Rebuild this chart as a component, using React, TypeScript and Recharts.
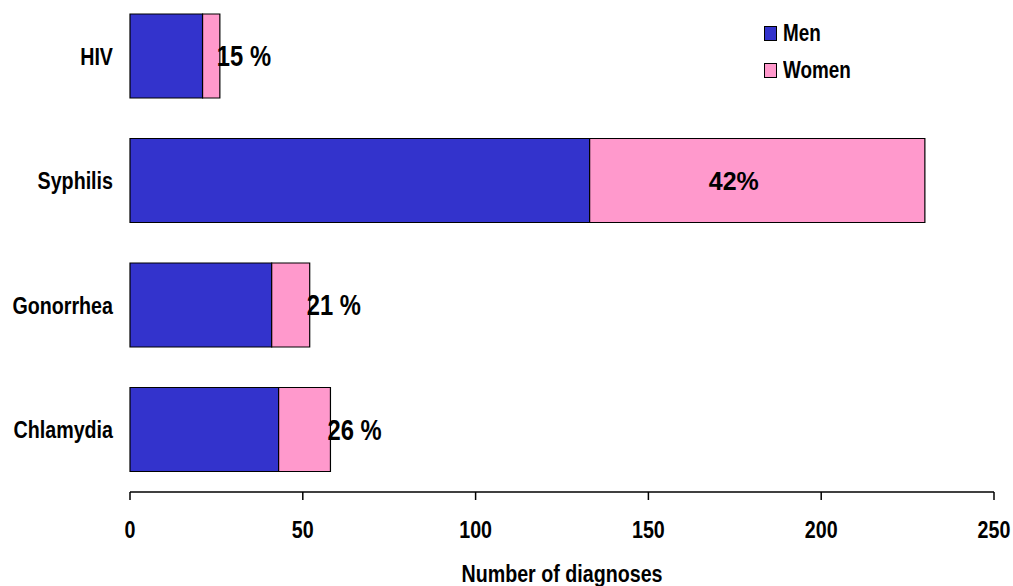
import React from 'react';
import { BarChart, Bar, XAxis, YAxis, LabelList } from 'recharts';

// Diagnoses by infection, split by sex
const infections = ['HIV', 'Syphilis', 'Gonorrhea', 'Chlamydia'];
const men = [21, 133, 41, 43];
const women = [5, 97, 11, 15];
const womenShare = ['15 %', '42%', '21 %', '26 %'];
const xTicks = [0, 50, 100, 150, 200, 250];

const chartData = infections.map((name, i) => ({
  name,
  men: men[i],
  women: women[i],
  share: womenShare[i],
}));

const FONT = '"Liberation Sans", Arial, sans-serif';
const SQUEEZE = 0.82; // no narrow font installed, so squeeze horizontally

// text drawn with a horizontal squeeze around its anchor point
const NarrowText = ({ x, y, anchor, size, children }: any) => (
  <g transform={`translate(${x},${y}) scale(${SQUEEZE},1)`}>
    <text x={0} y={0} textAnchor={anchor} fontFamily={FONT} fontWeight="bold" fontSize={size} fill="#000">
      {children}
    </text>
  </g>
);

const CategoryTick = (props: any) => {
  const { x, y, payload } = props;
  return <NarrowText x={x} y={y + 8.5} anchor="end" size={24}>{payload.value}</NarrowText>;
};

const NumberTick = (props: any) => {
  const { x, y, payload } = props;
  return <NarrowText x={x} y={y + 17} anchor="middle" size={24}>{payload.value}</NarrowText>;
};

const AxisTitle = (props: any) => {
  const { x, y, width, height } = props.viewBox;
  return <NarrowText x={x + width / 2} y={y + height + 60} anchor="middle" size={24}>Number of diagnoses</NarrowText>;
};

// Percentage of women, drawn next to (or inside) the pink segment
const ShareLabel = (props: any) => {
  const { x, y, width, height, value } = props;
  const cy = y + height / 2;
  if (width > 100) {
    return (
      <text x={x + width * 0.43} y={cy + 9} textAnchor="middle" fontFamily={FONT} fontWeight="bold" fontSize={25} fill="#000">
        {value}
      </text>
    );
  }
  return <NarrowText x={x + width - 3} y={cy + 10} anchor="start" size={29}>{value}</NarrowText>;
};

const legendText: React.CSSProperties = {
  display: 'inline-block',
  transform: `scaleX(${SQUEEZE})`,
  transformOrigin: 'left center',
};

export default function App() {
  return (
    <div style={{ position: 'fixed', top: 0, left: 0, width: 1013, height: 586, overflow: 'hidden', background: '#fff' }}>
      <div style={{ position: 'absolute', top: -20, left: 0 }}>
        <BarChart
          width={1013}
          height={606}
          data={chartData}
          layout="vertical"
          barSize={84}
          margin={{ top: 14, right: 19, left: 0, bottom: 64 }}
        >
          <XAxis
            type="number"
            domain={[0, 250]}
            ticks={xTicks}
            height={30}
            axisLine={{ stroke: '#000', strokeWidth: 1.5 }}
            tickLine={{ stroke: '#000', strokeWidth: 1.5 }}
            tickSize={8}
            tickMargin={21}
            tick={NumberTick}
            label={<AxisTitleLabel />}
          />
          <YAxis
            type="category"
            dataKey="name"
            width={130}
            axisLine={false}
            tickLine={false}
            tickSize={0}
            tickMargin={17}
            tick={CategoryTick}
          />
          <Bar dataKey="men" stackId="a" fill="#3333CC" stroke="#000" strokeWidth={1.2} isAnimationActive={false} />
          <Bar dataKey="women" stackId="a" fill="#FF99CC" stroke="#000" strokeWidth={1.2} isAnimationActive={false}>
            <LabelList dataKey="share" content={ShareLabel} />
          </Bar>
        </BarChart>
      </div>

      {/* Legend */}
      <div style={{ position: 'absolute', left: 764, top: 22, fontFamily: FONT, fontWeight: 'bold', fontSize: 23, color: '#000' }}>
        <div style={{ display: 'flex', alignItems: 'center', height: 22, marginBottom: 15 }}>
          <div style={{ width: 11, height: 13, background: '#3333CC', border: '1px solid #000', marginRight: 6 }}></div>
          <span style={legendText}>Men</span>
        </div>
        <div style={{ display: 'flex', alignItems: 'center', height: 22 }}>
          <div style={{ width: 11, height: 13, background: '#FF99CC', border: '1px solid #000', marginRight: 6 }}></div>
          <span style={legendText}>Women</span>
        </div>
      </div>
    </div>
  );
}

function AxisTitleLabel(props: any) {
  if (!props.viewBox) return null;
  return <AxisTitle viewBox={props.viewBox} />;
}
